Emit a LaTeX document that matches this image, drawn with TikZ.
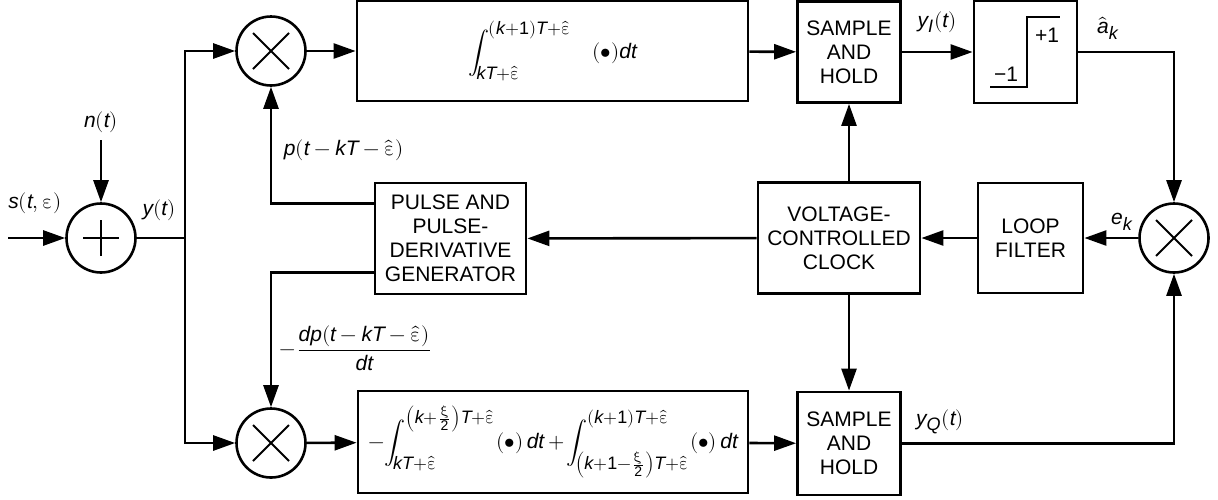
\documentclass[tikz,border=0pt]{standalone}
\usepackage{fontspec}
\usepackage{unicode-math}
\setmainfont{Liberation Sans}
\setmathfont{Latin Modern Math}
\setmathfont{Liberation Sans Italic}[range=it->up]
\setmathfont{Liberation Sans}[range=up/num]
\DeclareMathSizes{10.5}{10.5}{9}{7}
\usetikzlibrary{arrows.meta}
\newcommand\hateps{\hat{\symup{\varepsilon}}}

\begin{document}
\begin{tikzpicture}[x=0.5pt, y=-0.5pt, font=\fontsize{10.5}{12}\selectfont,
  line width=1.3pt, >={Triangle[length=11pt,width=7.5pt]},
  blk/.style={draw, line width=1.4pt, inner sep=0pt, align=center},
  mult/.style={draw, circle, minimum size=34.5pt, inner sep=0pt,
    path picture={\draw[line width=1pt]
      ([shift={(-9pt,-9pt)}]path picture bounding box.center) -- ([shift={(9pt,9pt)}]path picture bounding box.center)
      ([shift={(-9pt,9pt)}]path picture bounding box.center) -- ([shift={(9pt,-9pt)}]path picture bounding box.center);}},
  summ/.style={draw, circle, minimum size=34.5pt, inner sep=0pt,
    path picture={\draw[line width=1.3pt]
      ([xshift=-9pt]path picture bounding box.center) -- ([xshift=9pt]path picture bounding box.center)
      ([yshift=-9pt]path picture bounding box.center) -- ([yshift=9pt]path picture bounding box.center);}}]
\useasboundingbox (0,0) rectangle (1218,499);

% adder and mixers
\node[summ] (add) at (101,238) {};
\node[mult] (mulI) at (271,51) {};
\node[mult] (mulQ) at (271,443) {};
\node[mult] (mulE) at (1174,238) {};

% blocks
\node[blk, minimum width=195.5pt, minimum height=50pt] (intI) at (552.5,51)
  {$\displaystyle\int_{kT+\hateps}^{(k+1)T+\hateps}\quad(\bullet)dt$};
\node[blk, minimum width=51.5pt, minimum height=50.5pt] (shI) at (849,52) {SAMPLE\\AND\\HOLD};
\node[blk, minimum width=51.5pt, minimum height=51pt] (sign) at (1025.5,52) {};
\node[blk, minimum width=81pt, minimum height=55.5pt] (vcc) at (839,238) {VOLTAGE-\\CONTROLLED\\CLOCK};
\node[blk, minimum width=52.5pt, minimum height=55pt] (lf) at (1030.5,238) {LOOP\\FILTER};
\node[blk, minimum width=75.5pt, minimum height=55.5pt] (pg) at (450.5,238.5) {PULSE AND\\PULSE-\\DERIVATIVE\\GENERATOR};
\node[blk, minimum width=195pt, minimum height=51pt] (intQ) at (553,442)
  {$-\!\displaystyle\int_{kT+\hateps}^{\left(k+\frac{\symup{\xi}}{2}\right)T+\hateps}(\bullet)\,dt
   +\!\int_{\left(k+1-\frac{\symup{\xi}}{2}\right)T+\hateps}^{\left(k+1\right)T+\hateps}(\bullet)\,dt$};
\node[blk, minimum width=51.5pt, minimum height=51.5pt] (shQ) at (849,443.5) {SAMPLE\\AND\\HOLD};

% step characteristic
\draw (990,87) -- (1027,87) -- (1027,17) -- (1060,17);
\node (pone) at (1047,35) {+1};
\node (mone) at (1006,74) {−1};

% labels
\node (slbl) at (35,203) {$s(t,\symup{\varepsilon})$};
\node (nlbl) at (101,122) {$n(t)$};
\node (ylbl) at (159,210) {$y(t)$};
\node[anchor=west] (plbl) at (276,150) {$p(t-kT-\hateps)$};
\node[anchor=west] (dplbl) at (272,348) {$-\dfrac{dp(t-kT-\hateps)}{dt}$};
\node (yIlbl) at (937,22) {$y_I(t)$};
\node (alb) at (1108,28) {$\hat{a}_k$};
\node (elbl) at (1122,222) {$e_k$};
\node (yQlbl) at (940,422) {$y_Q(t)$};

\coordinate (in) at (8,238);
\coordinate (nin) at (101,140);
\coordinate (br) at (185,238);

% connectors
\draw[->] (in) -- (add);
\draw[->] (nin) -- (add);
\draw (add) -- (br);
\draw[->] (br) |- (mulI);
\draw[->] (br) |- (mulQ);
\draw[->] (mulI) -- (intI);
\draw[->] (intI) -- (shI);
\draw[->] (shI) -- (sign);
\draw[->] (sign) -| (mulE);
\draw[->] (mulE) -- (lf);
\draw[->] (lf) -- (vcc);
\draw[->] (vcc) -- (pg);
\draw[->] (vcc.north -| shI) -- (shI);
\draw[->] (vcc.south -| shQ) -- (shQ);
\draw[->] ([yshift=17.5pt]pg.west) -| (mulI);
\draw[->] ([yshift=-17pt]pg.west) -| (mulQ);
\draw[->] (mulQ) -- (intQ);
\draw[->] (intQ) -- (shQ);
\draw[->] (shQ) -| (mulE);
\end{tikzpicture}
\end{document}
